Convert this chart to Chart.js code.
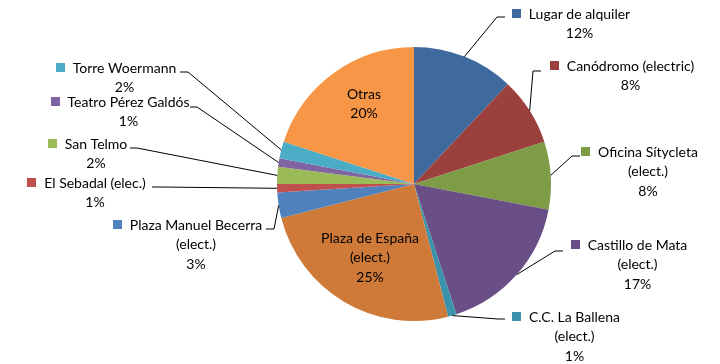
<!DOCTYPE html>
<html>
<head>
<meta charset="utf-8">
<script src="https://cdn.jsdelivr.net/npm/chart.js@4"></script>
<style>
  html, body { margin: 0; padding: 0; background: #fff; }
  #wrap { width: 720px; height: 364px; }
</style>
</head>
<body>
<div id="wrap"><canvas id="pieChart" width="720" height="364"></canvas></div>
<script>
// Categories (each entry is the list of lines shown in its label)
const categories = [
  ['Lugar de alquiler'],
  ['Canódromo (electric)'],
  ['Oficina Sítycleta', '(elect.)'],
  ['Castillo de Mata', '(elect.)'],
  ['C.C. La Ballena', '(elect.)'],
  ['Plaza de España', '(elect.)'],
  ['Plaza Manuel Becerra', '(elect.)'],
  ['El Sebadal (elec.)'],
  ['San Telmo'],
  ['Teatro Pérez Galdós'],
  ['Torre Woermann'],
  ['Otras']
];

// Share of each location, percent
const shares = [12, 8, 8, 17, 1, 25, 3, 1, 2, 1, 2, 20];

const sliceColors = [
  '#3E6A9E', '#9C403E', '#7E9B46', '#6A4F86', '#3B93AB', '#CF7A38',
  '#4F81BD', '#C0504D', '#9BBB59', '#8064A2', '#4BACC6', '#F79646'
];

// Label placement: text centre, first line y, and the leader elbow/end points.
// inside: true means the label sits on the slice with no key or leader.
const labelLayout = [
  { cx: 579.5, y: 14,  elbow: [497, 17],  end: [505, 17] },
  { cx: 630.5, y: 66,  elbow: [533, 71],  end: [541, 71] },
  { cx: 648,   y: 152, elbow: [572, 156], end: [580, 156] },
  { cx: 637.5, y: 245, elbow: [555, 251], end: [563, 251] },
  { cx: 574.5, y: 317, elbow: [498, 319], end: [505, 319] },
  { cx: 370,   y: 238, inside: true },
  { cx: 196,   y: 225, elbow: [274, 229], end: [266, 229] },
  { cx: 95,    y: 183, elbow: [160, 187], end: [152, 187] },
  { cx: 96,    y: 144, elbow: [137, 148], end: [130, 148] },
  { cx: 128.5, y: 102, elbow: [197, 107], end: [190, 107] },
  { cx: 124.5, y: 68,  elbow: [188, 72],  end: [180, 72] },
  { cx: 364,   y: 94,  inside: true }
];

const FONT = '14px Lato, "Open Sans", sans-serif';
const LINE_H = 19.5;

// Draws leader lines, legend keys and the name/percent labels
const outsideLabels = {
  id: 'outsideLabels',
  afterDatasetsDraw(chart) {
    const ctx = chart.ctx;
    const meta = chart.getDatasetMeta(0);
    ctx.save();
    ctx.font = FONT;
    ctx.textAlign = 'center';
    ctx.textBaseline = 'middle';

    meta.data.forEach(function (arc, i) {
      const lay = labelLayout[i];
      const lines = categories[i].concat([shares[i] + '%']);

      if (!lay.inside) {
        const mid = (arc.startAngle + arc.endAngle) / 2;
        const px = arc.x + Math.cos(mid) * arc.outerRadius;
        const py = arc.y + Math.sin(mid) * arc.outerRadius;
        ctx.strokeStyle = '#000';
        ctx.lineWidth = 1;
        ctx.beginPath();
        ctx.moveTo(px, py);
        ctx.lineTo(lay.elbow[0], lay.elbow[1]);
        ctx.lineTo(lay.end[0], lay.end[1]);
        ctx.stroke();

        // legend key in front of the first line
        const w = ctx.measureText(lines[0]).width;
        ctx.fillStyle = sliceColors[i];
        ctx.fillRect(Math.round(lay.cx - w / 2 - 17), Math.round(lay.y - 5), 9, 9);
      }

      ctx.fillStyle = '#000';
      lines.forEach(function (txt, k) {
        ctx.fillText(txt, lay.cx, lay.y + k * LINE_H);
      });
    });
    ctx.restore();
  }
};

const ctxPie = document.getElementById('pieChart').getContext('2d');
const pieChart = new Chart(ctxPie, {
  type: 'pie',
  data: {
    labels: categories,
    datasets: [{
      data: shares,
      backgroundColor: sliceColors,
      borderWidth: 0
    }]
  },
  options: {
    responsive: false,
    animation: false,
    layout: { padding: { left: 277, right: 169, top: 47, bottom: 43 } },
    plugins: {
      legend: { display: false },
      tooltip: { enabled: false }
    }
  },
  plugins: [outsideLabels]
});
</script>
</body>
</html>
